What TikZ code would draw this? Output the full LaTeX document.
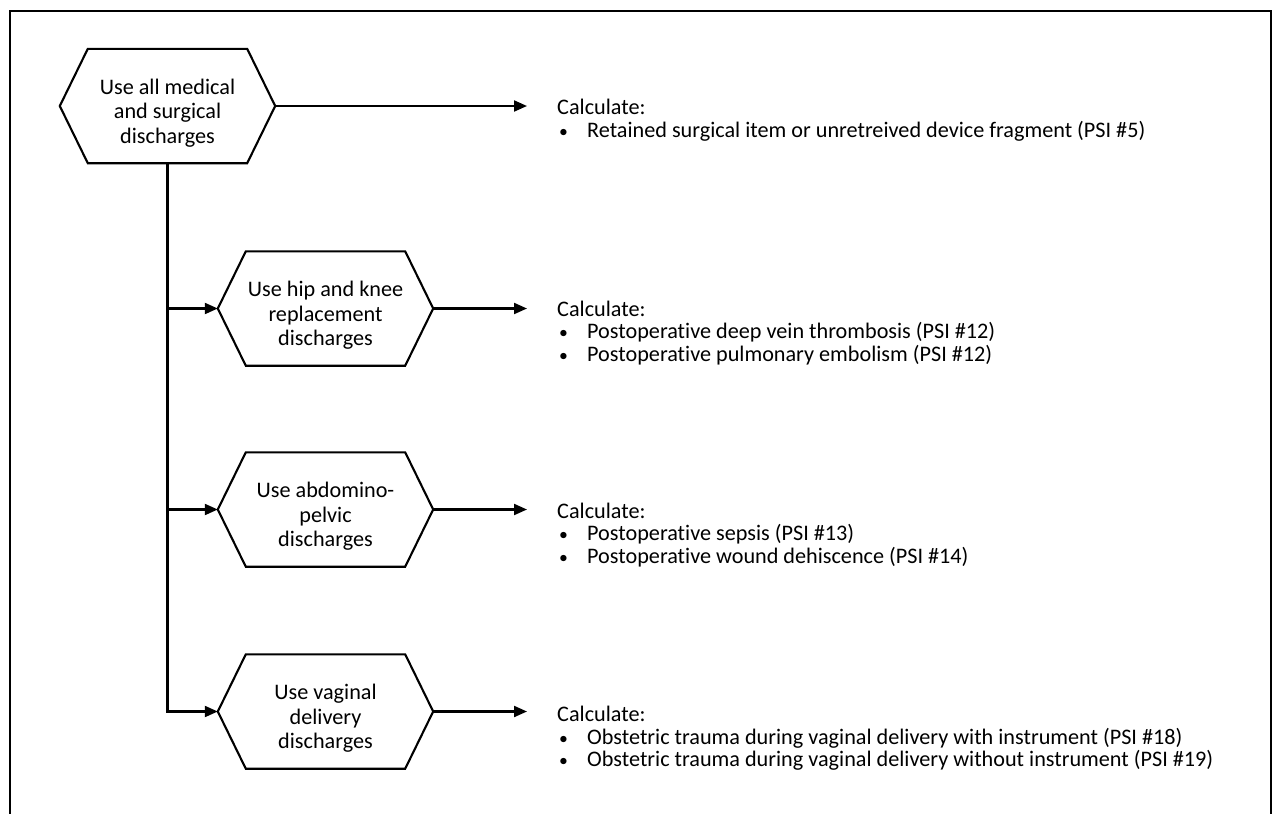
\documentclass[tikz,border=0pt]{standalone}
\usepackage{fontspec}
\setmainfont{Carlito}[Ligatures={CommonOff,ContextualOff}]
\usetikzlibrary{arrows.meta,calc}
% three centred lines, set a little below the geometric centre
\newcommand\hextext[1]{\raisebox{-8pt}[\height][\depth]{\begin{tabular}{@{}c@{}}#1\end{tabular}}}
\newcommand\bul{\makebox[28pt][l]{\scalebox{0.8}{•}}}
\begin{document}
\begin{tikzpicture}[x=1pt,y=-1pt,
  hexbox/.style={minimum width=215pt, minimum height=114pt, inner sep=0pt,
    font=\fontsize{22.2}{24.5}\selectfont},
  conn/.style={line width=2.1pt},
  arr/.style={conn,-{Triangle[length=13pt,width=11pt]}},
  txt/.style={anchor=base west, inner sep=0pt, font=\fontsize{22.2}{24}\selectfont},
  item/.style={txt}
]
\useasboundingbox (0,0) rectangle (1278,814);
% page frame, open at the bottom
\draw[line width=2.5pt] (10,814) -- (10,11) -- (1271,11) -- (1271,814);

% discharge groups
\node[hexbox] (h1) at (167.5,106)   {\hextext{Use all medical\\and surgical\\discharges}};
\node[hexbox] (h2) at (325.5,308.5) {\hextext{Use hip and knee\\replacement\\discharges}};
\node[hexbox] (h3) at (325.5,509.5) {\hextext{Use abdomino-\\pelvic\\discharges}};
\node[hexbox] (h4) at (325.5,711.5) {\hextext{Use vaginal\\delivery\\discharges}};

\foreach \n in {h1,h2,h3,h4}
  \draw[conn, line join=miter]
    (\n.west) -- ($(\n.north west)+(28,0)$) -- ($(\n.north east)+(-28,0)$)
    -- (\n.east) -- ($(\n.south east)+(-28,0)$) -- ($(\n.south west)+(28,0)$)
    -- cycle;

% indicator lists
\node[txt] (c1) at (557,114) {Calculate:};
\node[item] (i11) at (559,137) {\bul Retained surgical item or unretreived device fragment (PSI \#5)};

\node[txt] (c2) at (557,316) {Calculate:};
\node[item] (i21) at (559,338.5) {\bul Postoperative deep vein thrombosis (PSI \#12)};
\node[item] (i22) at (559,361) {\bul Postoperative pulmonary embolism (PSI \#12)};

\node[txt] (c3) at (557,518) {Calculate:};
\node[item] (i31) at (559,540.5) {\bul Postoperative sepsis (PSI \#13)};
\node[item] (i32) at (559,563) {\bul Postoperative wound dehiscence (PSI \#14)};

\node[txt] (c4) at (557,721) {Calculate:};
\node[item] (i41) at (559,744) {\bul Obstetric trauma during vaginal delivery with instrument (PSI \#18)};
\node[item] (i42) at (559,766.5) {\bul Obstetric trauma during vaginal delivery without instrument (PSI \#19)};

% connectors
\draw[arr] (h1.south) |- (h4.west);
\draw[arr] (h1.south |- h2.west) -- (h2.west);
\draw[arr] (h1.south |- h3.west) -- (h3.west);

\foreach \k in {1,2,3,4}
  \draw[arr, shorten >=30pt] (h\k.east) -- (h\k.east -| c\k.west);
\end{tikzpicture}
\end{document}
